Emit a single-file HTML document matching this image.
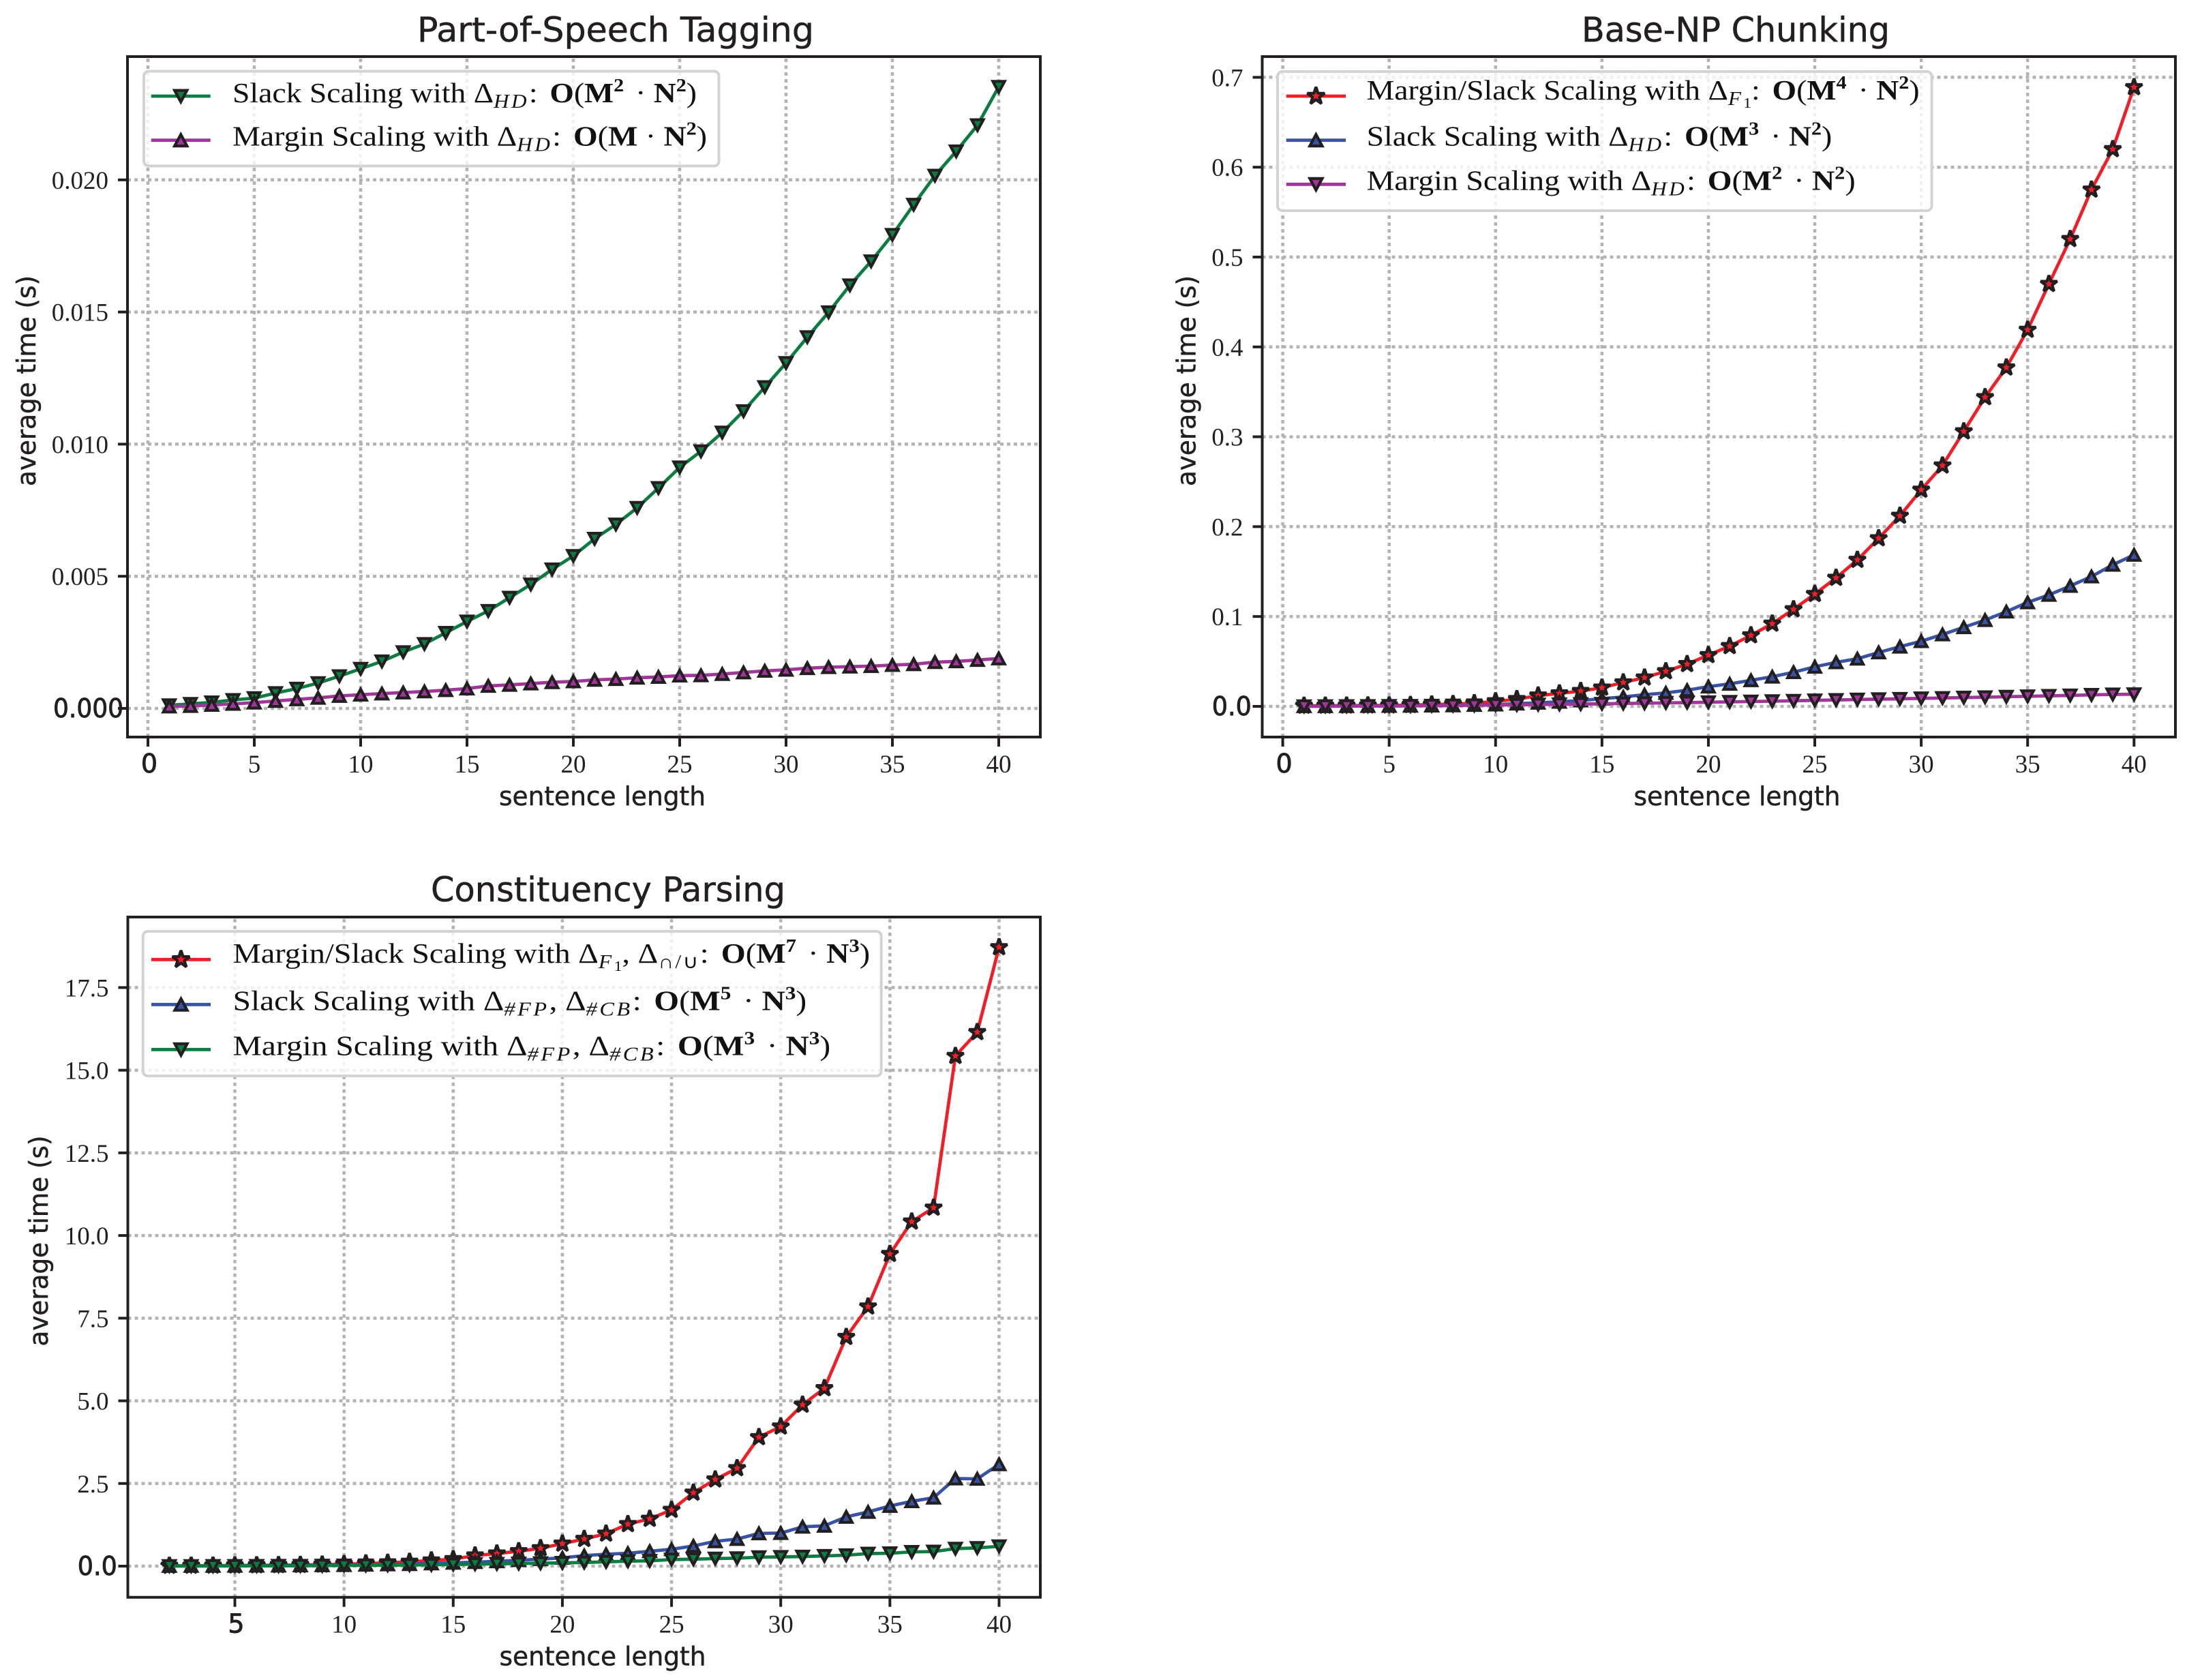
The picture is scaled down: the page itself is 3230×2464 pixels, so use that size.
<!DOCTYPE html>
<html lang="en">
<head>
<meta charset="utf-8">
<title>Average inference time versus sentence length</title>
<style>
html,body{margin:0;padding:0;background:#fff;width:3230px;height:2464px;overflow:hidden}
svg{display:block}
.lg{font-family:"Liberation Serif",serif;font-size:41px;fill:#111}
.sub{font-size:28px;font-style:italic;letter-spacing:3px}
.subr{font-size:28px;letter-spacing:2px}
.subsub{font-size:21px}
.bf{font-weight:bold}
.sup{font-size:27px}
.ttl{font-family:"DejaVu Sans","Liberation Sans",sans-serif;font-size:50px;fill:#231f20;stroke:#231f20;stroke-width:.5px}
.axl{font-family:"DejaVu Sans","Liberation Sans",sans-serif;font-size:38px;fill:#231f20;stroke:#231f20;stroke-width:.5px}
.tk{font-family:"Liberation Serif",serif;font-size:37px;fill:#231f20}
.tkh{font-family:"DejaVu Sans","Liberation Sans",sans-serif;font-size:38px;fill:#231f20;stroke:#231f20;stroke-width:.9px}
.lgbox{fill:rgba(255,255,255,.8);stroke:#d3d3d3;stroke-width:4}
</style>
</head>
<body>
<svg id="fig" xmlns="http://www.w3.org/2000/svg" width="3230" height="2464" viewBox="0 0 3230 2464">
  <rect x="0" y="0" width="3230" height="2464" fill="#fff"/>

  <g id="chart-pos">
    <g id="plot-pos"></g>
    <g>
      <rect class="lgbox" x="211" y="104.5" width="843.5" height="139" rx="7"/>
      <g id="handles-pos"></g>
      <text class="lg" x="341" y="150" textLength="681" lengthAdjust="spacingAndGlyphs">Slack Scaling with Δ<tspan class="sub" dy="8">HD</tspan><tspan dy="-8">:</tspan><tspan class="bf" dx="16">O</tspan>(<tspan class="bf">M</tspan><tspan class="bf sup" dy="-16">2</tspan><tspan dy="16" dx="5"> · </tspan><tspan class="bf">N</tspan><tspan class="bf sup" dy="-16">2</tspan><tspan dy="16">)</tspan></text>
      <text class="lg" x="341" y="213.5" textLength="696" lengthAdjust="spacingAndGlyphs">Margin Scaling with Δ<tspan class="sub" dy="8">HD</tspan><tspan dy="-8">:</tspan><tspan class="bf" dx="16">O</tspan>(<tspan class="bf">M</tspan> · <tspan class="bf">N</tspan><tspan class="bf sup" dy="-16">2</tspan><tspan dy="16">)</tspan></text>
    </g>
  </g>

  <g id="chart-np">
    <g id="plot-np"></g>
    <g>
      <rect class="lgbox" x="1874" y="105" width="959.5" height="204" rx="7"/>
      <g id="handles-np"></g>
      <text class="lg" x="2004.6" y="146" textLength="811" lengthAdjust="spacingAndGlyphs">Margin/Slack Scaling with Δ<tspan class="sub" dy="8">F</tspan><tspan class="subsub" dy="4">1</tspan><tspan dy="-12">:</tspan><tspan class="bf" dx="16">O</tspan>(<tspan class="bf">M</tspan><tspan class="bf sup" dy="-16">4</tspan><tspan dy="16" dx="5"> · </tspan><tspan class="bf">N</tspan><tspan class="bf sup" dy="-16">2</tspan><tspan dy="16">)</tspan></text>
      <text class="lg" x="2004.6" y="213.7" textLength="682.6" lengthAdjust="spacingAndGlyphs">Slack Scaling with Δ<tspan class="sub" dy="8">HD</tspan><tspan dy="-8">:</tspan><tspan class="bf" dx="16">O</tspan>(<tspan class="bf">M</tspan><tspan class="bf sup" dy="-16">3</tspan><tspan dy="16" dx="5"> · </tspan><tspan class="bf">N</tspan><tspan class="bf sup" dy="-16">2</tspan><tspan dy="16">)</tspan></text>
      <text class="lg" x="2004.6" y="278.3" textLength="717" lengthAdjust="spacingAndGlyphs">Margin Scaling with Δ<tspan class="sub" dy="8">HD</tspan><tspan dy="-8">:</tspan><tspan class="bf" dx="16">O</tspan>(<tspan class="bf">M</tspan><tspan class="bf sup" dy="-16">2</tspan><tspan dy="16" dx="5"> · </tspan><tspan class="bf">N</tspan><tspan class="bf sup" dy="-16">2</tspan><tspan dy="16">)</tspan></text>
    </g>
  </g>

  <g id="chart-cp">
    <g id="plot-cp"></g>
    <g>
      <rect class="lgbox" x="209.7" y="1366" width="1083" height="212" rx="7"/>
      <g id="handles-cp"></g>
      <text class="lg" x="341.6" y="1412" textLength="934.6" lengthAdjust="spacingAndGlyphs">Margin/Slack Scaling with Δ<tspan class="sub" dy="8">F</tspan><tspan class="subsub" dy="4">1</tspan><tspan dy="-12">, Δ</tspan><tspan class="subr" dy="8">∩/∪</tspan><tspan dy="-8">:</tspan><tspan class="bf" dx="16">O</tspan>(<tspan class="bf">M</tspan><tspan class="bf sup" dy="-16">7</tspan><tspan dy="16" dx="5"> · </tspan><tspan class="bf">N</tspan><tspan class="bf sup" dy="-16">3</tspan><tspan dy="16">)</tspan></text>
      <text class="lg" x="341.6" y="1481.7" textLength="841.6" lengthAdjust="spacingAndGlyphs">Slack Scaling with Δ<tspan class="sub" dy="8">#FP</tspan><tspan dy="-8">, Δ</tspan><tspan class="sub" dy="8">#CB</tspan><tspan dy="-8">:</tspan><tspan class="bf" dx="16">O</tspan>(<tspan class="bf">M</tspan><tspan class="bf sup" dy="-16">5</tspan><tspan dy="16" dx="5"> · </tspan><tspan class="bf">N</tspan><tspan class="bf sup" dy="-16">3</tspan><tspan dy="16">)</tspan></text>
      <text class="lg" x="341.6" y="1547.3" textLength="876.6" lengthAdjust="spacingAndGlyphs">Margin Scaling with Δ<tspan class="sub" dy="8">#FP</tspan><tspan dy="-8">, Δ</tspan><tspan class="sub" dy="8">#CB</tspan><tspan dy="-8">:</tspan><tspan class="bf" dx="16">O</tspan>(<tspan class="bf">M</tspan><tspan class="bf sup" dy="-16">3</tspan><tspan dy="16" dx="5"> · </tspan><tspan class="bf">N</tspan><tspan class="bf sup" dy="-16">3</tspan><tspan dy="16">)</tspan></text>
    </g>
  </g>
</svg>
<script>
// ---------- Chart data ----------
const posLengths = [1,2,3,4,5,6,7,8,9,10,11,12,13,14,15,16,17,18,19,20,21,22,23,24,25,26,27,28,29,30,31,32,33,34,35,36,37,38,39,40];
const posSlackHD = [.00012,.00017,.00023,.00032,.00039,.00058,.00075,.00096,.00122,.0015,.00178,.00213,.00244,.00286,.00329,.00369,.00419,.00469,.00526,.00577,.00642,.00696,.00759,.00834,.00912,.00973,.01044,.01125,.01216,.01307,.01405,.01499,.01601,.01692,.01792,.01906,.02016,.02108,.02207,.02352];
const posMarginHD = [.00007,.00009,.00013,.00017,.00022,.00028,.00034,.0004,.00047,.00052,.00056,.0006,.00064,.00069,.00075,.00085,.00089,.00094,.00099,.00102,.00108,.00111,.00116,.00119,.00124,.00125,.0013,.00136,.00142,.00146,.00152,.00156,.00158,.0016,.00164,.00167,.00175,.00178,.00183,.00189];
const posXTicks = [0,5,10,15,20,25,30,35,40];
const posXLabels = ['0','5','10','15','20','25','30','35','40'];
const posYTicks = [0,.005,.01,.015,.02];
const posYLabels = ['0.000','0.005','0.010','0.015','0.020'];

const npLengths = [1,2,3,4,5,6,7,8,9,10,11,12,13,14,15,16,17,18,19,20,21,22,23,24,25,26,27,28,29,30,31,32,33,34,35,36,37,38,39,40];
const npF1 = [.0006,.0007,.0008,.001,.001,.0015,.002,.0025,.0035,.0056,.008,.012,.0144,.017,.0208,.0266,.032,.039,.047,.057,.067,.079,.092,.108,.125,.143,.163,.187,.212,.241,.268,.306,.344,.377,.419,.47,.52,.575,.62,.689];
const npSlackHD = [.0002,.0002,.0003,.0004,.0005,.0006,.0008,.001,.0015,.002,.003,.004,.005,.0065,.0085,.0105,.013,.015,.018,.022,.025,.029,.033,.038,.044,.049,.053,.06,.0664,.0725,.08,.088,.096,.1054,.1157,.124,.134,.1445,.1575,.1686];
const npMarginHD = [.0001,.0002,.0003,.0004,.0005,.0006,.0008,.001,.0012,.0014,.0017,.002,.0023,.0026,.0029,.0032,.0035,.0039,.0042,.0046,.005,.0054,.0058,.0062,.0067,.0071,.0076,.008,.0084,.0089,.0093,.0098,.0102,.0107,.0112,.0117,.0122,.0128,.0133,.0135];
const npXTicks = [0,5,10,15,20,25,30,35,40];
const npXLabels = ['0','5','10','15','20','25','30','35','40'];
const npYTicks = [0,.1,.2,.3,.4,.5,.6,.7];
const npYLabels = ['0.0','0.1','0.2','0.3','0.4','0.5','0.6','0.7'];

const cpLengths = [2,3,4,5,6,7,8,9,10,11,12,13,14,15,16,17,18,19,20,21,22,23,24,25,26,27,28,29,30,31,32,33,34,35,36,37,38,39,40];
const cpF1 = [.01,.012,.015,.02,.025,.03,.035,.045,.06,.08,.1,.13,.17,.21,.32,.38,.45,.54,.68,.82,.98,1.27,1.43,1.7,2.22,2.62,2.96,3.9,4.22,4.88,5.38,6.93,7.85,9.44,10.42,10.84,15.43,16.15,18.72];
const cpSlack = [.005,.006,.008,.01,.012,.015,.02,.025,.03,.04,.05,.06,.08,.1,.12,.145,.18,.21,.25,.32,.36,.39,.45,.51,.61,.75,.82,.99,1,1.19,1.22,1.49,1.64,1.82,1.96,2.07,2.65,2.64,3.08];
const cpMargin = [.003,.004,.005,.006,.008,.01,.012,.015,.02,.025,.03,.035,.04,.05,.06,.07,.08,.09,.1,.11,.13,.15,.16,.2,.21,.23,.24,.27,.28,.29,.31,.33,.38,.39,.43,.44,.53,.55,.6];
const cpXTicks = [5,10,15,20,25,30,35,40];
const cpXLabels = ['5','10','15','20','25','30','35','40'];
const cpYTicks = [0,2.5,5,7.5,10,12.5,15,17.5];
const cpYLabels = ['0.0','2.5','5.0','7.5','10.0','12.5','15.0','17.5'];

// ---------- Style ----------
const INK = '#231f20';
const GREEN = '#0b7d40';
const PURPLE = '#a0359a';
const BLUE = '#3953a4';
const RED = '#ee1f27';
const GRID = '#b3b3b3';
const SVGNS = 'http://www.w3.org/2000/svg';

function mk(tag, attrs) {
  const el = document.createElementNS(SVGNS, tag);
  for (const k in attrs) el.setAttribute(k, attrs[k]);
  return el;
}
function linear(d0, d1, p0, p1) {
  return function (v) { return p0 + (v - d0) / (d1 - d0) * (p1 - p0); };
}
function markerPoints(kind, cx, cy, s) {
  if (kind === 'star') {
    const pts = [];
    for (let i = 0; i < 10; i++) {
      const r = (i % 2 === 0 ? 12.8 : 12.8 * 0.382) * s;
      const a = -Math.PI / 2 + i * Math.PI / 5;
      pts.push((cx + r * Math.cos(a)).toFixed(2) + ',' + (cy + r * Math.sin(a)).toFixed(2));
    }
    return pts.join(' ');
  }
  const w = 8.6 * s, h = 8 * s, dir = kind === 'up' ? 1 : -1;
  return [cx, cy - dir * h, cx + w, cy + dir * h, cx - w, cy + dir * h].map(function (n) { return n.toFixed(2); }).join(' ').replace(/(\S+) (\S+)/g, '$1,$2');
}
function drawMarker(parent, kind, color, cx, cy, s) {
  const m = mk('polygon', {
    points: markerPoints(kind, cx, cy, s), fill: color, stroke: INK, 'stroke-width': 4.2,
    'stroke-linejoin': kind === 'star' ? 'bevel' : 'miter', 'stroke-miterlimit': 10
  });
  
  
  parent.appendChild(m);
}

function drawChart(cfg) {
  const root = document.getElementById(cfg.rootId);
  const sx = linear(cfg.xDomain[0], cfg.xDomain[1], cfg.xRange[0], cfg.xRange[1]);
  const sy = linear(cfg.yDomain[0], cfg.yDomain[1], cfg.yRange[0], cfg.yRange[1]);
  const box = cfg.box;

  cfg.xTicks.forEach(function (t) {
    const g = mk('line', { x1: sx(t), x2: sx(t), y1: box.bottom, y2: box.top, stroke: GRID, 'stroke-width': 4.5, 'stroke-dasharray': '5 5' });
    
    
    root.appendChild(g);
  });
  cfg.yTicks.forEach(function (t) {
    const g = mk('line', { x1: box.left, x2: box.right, y1: sy(t), y2: sy(t), stroke: GRID, 'stroke-width': 4.5, 'stroke-dasharray': '5 5' });
    
    
    root.appendChild(g);
  });

  cfg.series.forEach(function (s) {
    const group = mk('g', {});
    
    
    const pts = s.values.map(function (v, i) { return sx(cfg.lengths[i]).toFixed(2) + ',' + sy(v).toFixed(2); }).join(' ');
    const line = mk('polyline', { points: pts, fill: 'none', stroke: s.color, 'stroke-width': 4.8, 'stroke-linejoin': 'round' });
    
    
    group.appendChild(line);
    s.values.forEach(function (v, i) {
      drawMarker(group, s.marker, s.color, sx(cfg.lengths[i]), sy(v), 1);
    });
    root.appendChild(group);
  });

  const frame = mk('rect', { x: box.left, y: box.top, width: box.right - box.left, height: box.bottom - box.top, fill: 'none', stroke: INK, 'stroke-width': 4 });
  
  
  root.appendChild(frame);

  cfg.xTicks.forEach(function (t, i) {
    const mark = mk('line', { x1: sx(t), x2: sx(t), y1: box.bottom, y2: box.bottom + 14, stroke: INK, 'stroke-width': 4 });
    
    
    root.appendChild(mark);
    const heavy = i === 0;
    const lab = mk('text', { x: sx(t) + (heavy ? 2 : 0), y: box.bottom + 52, 'text-anchor': 'middle', class: heavy ? 'tkh' : 'tk' });
    
    
    lab.textContent = cfg.xLabels[i];
    root.appendChild(lab);
  });
  cfg.yTicks.forEach(function (t, i) {
    const mark = mk('line', { x1: box.left - 14, x2: box.left, y1: sy(t), y2: sy(t), stroke: INK, 'stroke-width': 4 });
    
    
    root.appendChild(mark);
    const heavy = i === 0;
    const attrs = heavy
      ? { x: box.left - cfg.heavyYOffset, y: sy(t) + 13, class: 'tkh', textLength: cfg.heavyYWidth, lengthAdjust: 'spacingAndGlyphs' }
      : { x: box.left - 28, y: sy(t) + 13, 'text-anchor': 'end', class: 'tk' };
    const lab = mk('text', attrs);
    
    
    lab.textContent = cfg.yLabels[i];
    root.appendChild(lab);
  });

  const title = mk('text', { x: cfg.titleX, y: cfg.titleY, class: 'ttl', textLength: cfg.titleW, lengthAdjust: 'spacingAndGlyphs' });
  
  
  title.textContent = cfg.title;
  root.appendChild(title);

  const xl = mk('text', { x: box.left + 545, y: box.bottom + 100, class: 'axl', textLength: 303, lengthAdjust: 'spacingAndGlyphs' });
  
  
  xl.textContent = 'sentence length';
  root.appendChild(xl);

  const yl = mk('text', { x: 0, y: 0, class: 'axl', 'text-anchor': 'middle', transform: 'translate(' + cfg.yLabelX + ' ' + cfg.yLabelY + ') rotate(-90)', textLength: 309, lengthAdjust: 'spacingAndGlyphs' });
  
  
  yl.textContent = 'average time (s)';
  root.appendChild(yl);

  const handles = document.getElementById(cfg.handlesId);
  cfg.series.forEach(function (s, i) {
    const y = cfg.handleY[i];
    const h = mk('line', { x1: cfg.handleX[0], x2: cfg.handleX[1], y1: y, y2: y, stroke: s.color, 'stroke-width': 4.8 });
    
    
    handles.appendChild(h);
    drawMarker(handles, s.marker, s.color, (cfg.handleX[0] + cfg.handleX[1]) / 2, y, 1.05);
  });
}

drawChart({
  rootId: 'plot-pos', handlesId: 'handles-pos', title: 'Part-of-Speech Tagging',
  titleX: 612, titleY: 61, titleW: 582,
  box: { left: 187, right: 1526, top: 83, bottom: 1081 },
  xDomain: [0, 40], xRange: [217, 1465], yDomain: [0, .02], yRange: [1039, 263.8],
  lengths: posLengths, xTicks: posXTicks, xLabels: posXLabels, yTicks: posYTicks, yLabels: posYLabels,
  heavyYOffset: 109, heavyYWidth: 103, yLabelX: 52, yLabelY: 558.5,
  handleX: [221.7, 308.7], handleY: [141, 205.7],
  series: [
    { name: 'slack-scaling-hd-series', values: posSlackHD, color: GREEN, marker: 'down' },
    { name: 'margin-scaling-hd-series', values: posMarginHD, color: PURPLE, marker: 'up' }
  ]
});
drawChart({
  rootId: 'plot-np', handlesId: 'handles-np', title: 'Base-NP Chunking',
  titleX: 2320, titleY: 61, titleW: 452,
  box: { left: 1851.5, right: 3191, top: 83, bottom: 1081 },
  xDomain: [0, 40], xRange: [1881.6, 3130.3], yDomain: [0, .7], yRange: [1036, 113.4],
  lengths: npLengths, xTicks: npXTicks, xLabels: npXLabels, yTicks: npYTicks, yLabels: npYLabels,
  heavyYOffset: 73.7, heavyYWidth: 58, yLabelX: 1753.5, yLabelY: 558.5,
  handleX: [1886.7, 1974], handleY: [141, 205.7, 270.3],
  series: [
    { name: 'f1-scaling-series', values: npF1, color: RED, marker: 'star' },
    { name: 'slack-scaling-hd-series', values: npSlackHD, color: BLUE, marker: 'up' },
    { name: 'margin-scaling-hd-series', values: npMarginHD, color: PURPLE, marker: 'down' }
  ]
});
drawChart({
  rootId: 'plot-cp', handlesId: 'handles-cp', title: 'Constituency Parsing',
  titleX: 632, titleY: 1322, titleW: 520,
  box: { left: 187.5, right: 1526, top: 1345, bottom: 2342.7 },
  xDomain: [5, 40], xRange: [344.5, 1465.5], yDomain: [0, 17.5], yRange: [2297, 1448.4],
  lengths: cpLengths, xTicks: cpXTicks, xLabels: cpXLabels, yTicks: cpYTicks, yLabels: cpYLabels,
  heavyYOffset: 73.7, heavyYWidth: 58, yLabelX: 70, yLabelY: 1820,
  handleX: [222, 309], handleY: [1407.3, 1473.3, 1539.3],
  series: [
    { name: 'f1-iou-scaling-series', values: cpF1, color: RED, marker: 'star' },
    { name: 'slack-scaling-fp-cb-series', values: cpSlack, color: BLUE, marker: 'up' },
    { name: 'margin-scaling-fp-cb-series', values: cpMargin, color: GREEN, marker: 'down' }
  ]
});
</script>
</body>
</html>
